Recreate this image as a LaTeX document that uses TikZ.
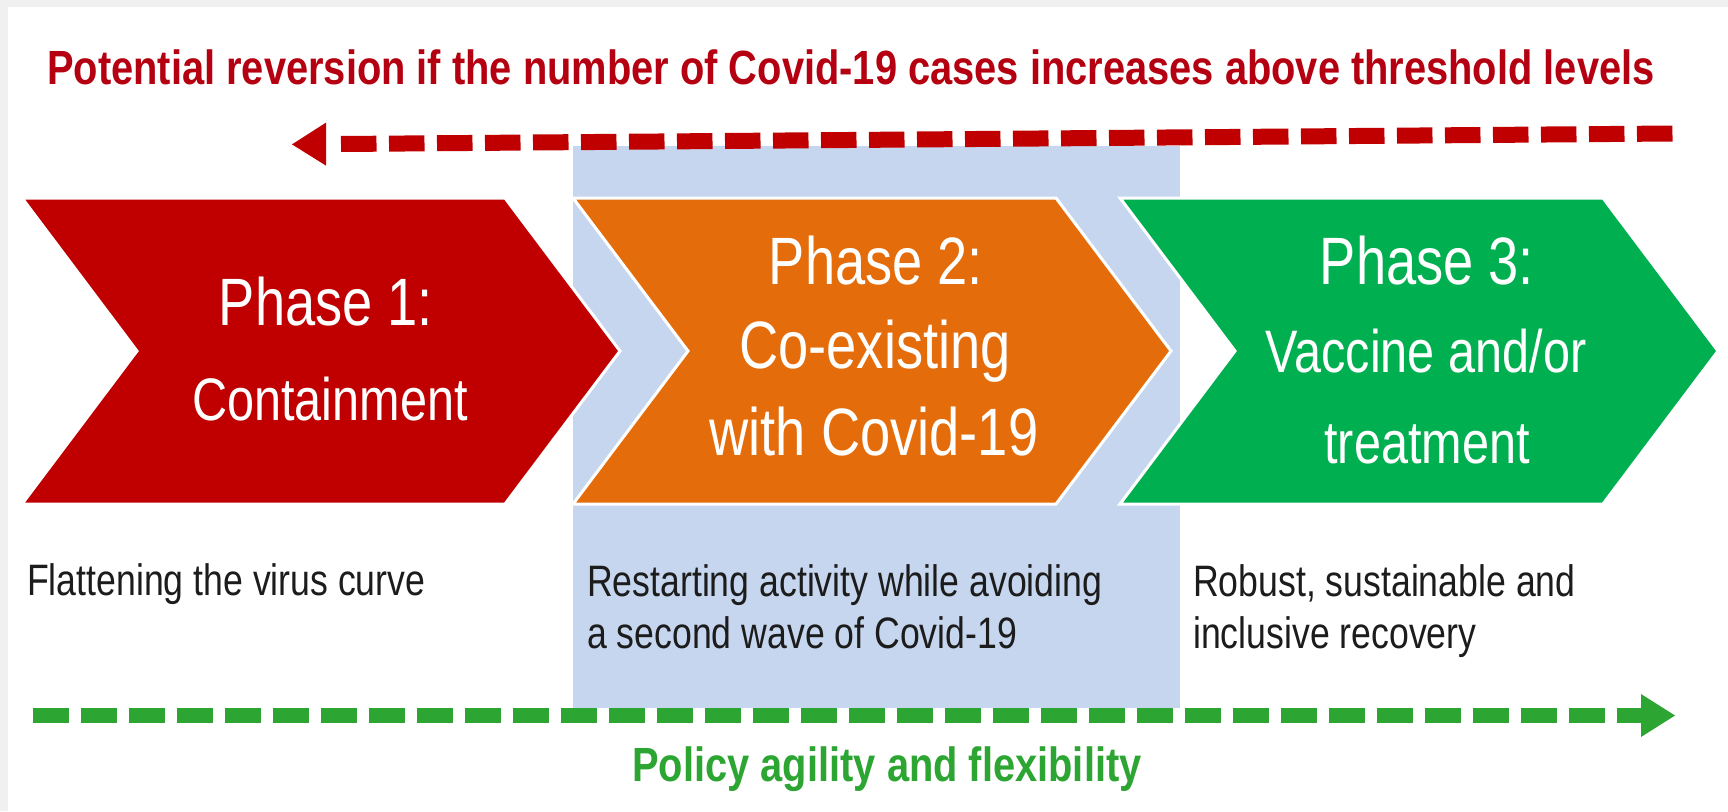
\documentclass[tikz,border=0pt]{standalone}
\usepackage{fontspec}
\setmainfont{Liberation Sans}
\definecolor{bggray}{RGB}{240,240,240}
\definecolor{phred}{RGB}{192,0,0}
\definecolor{titred}{RGB}{180,0,16}
\definecolor{phorange}{RGB}{228,108,10}
\definecolor{phgreen}{RGB}{0,176,80}
\definecolor{phblue}{RGB}{198,214,238}
\definecolor{arrgreen}{RGB}{44,165,50}
\definecolor{txtdark}{RGB}{28,28,28}
\newcommand\nrw[1]{\scalebox{0.81}[1]{#1}}
\newcommand\bldw[1]{\scalebox{0.83}[1]{#1}}
\begin{document}
\begin{tikzpicture}[x=1pt,y=-1pt,
  chev/.style={draw=white, line width=3pt, line join=miter},
  ptxt/.style={text=white, inner sep=0pt, anchor=base},
  btxt/.style={text=txtdark, inner sep=0pt, anchor=base west, font=\fontsize{44}{53}\selectfont},
  bigf/.style={font=\fontsize{67}{80}\selectfont},
  medf/.style={font=\fontsize{60}{72}\selectfont},
  dashline/.style={line width=#1, dash pattern=on 35.5pt off 12.5pt, line cap=butt},
  headtxt/.style={inner sep=0pt, font=\fontsize{48}{58}\selectfont\bfseries},
]
\useasboundingbox (0,0) rectangle (1728,811);
\fill[bggray] (0,0) rectangle (1728,811);
\fill[white] (8,7) rectangle (1728,811);
% light blue band behind phase 2
\fill[phblue] (573,146) rectangle (1180,708);
% chevrons
\path[chev, fill=phred] (22,198) -- (505,198) -- (620,351) -- (505,504) -- (22,504) -- (137,351) -- cycle;
\path[chev, fill=phorange] (573,198) -- (1056,198) -- (1171,351) -- (1056,504) -- (573,504) -- (688,351) -- cycle;
\path[chev, fill=phgreen] (1120,198) -- (1603,198) -- (1718,351) -- (1603,504) -- (1120,504) -- (1235,351) -- cycle;
% title
\node[headtxt, text=titred, anchor=base west] (title) at (47,84) {\bldw{Potential reversion if the number of Covid-19 cases increases above threshold levels}};
% reversion arrow
\coordinate (rs) at (341,144);
\coordinate (re) at (1673,133.5);
\coordinate (rtip) at (292,144.4);
\draw[dashline=16pt, phred] (rs) -- (re);
\fill[phred] (rtip) -- (326,122.6) -- (326,165.6) -- cycle;
% phase texts
\node[ptxt, bigf] (p1a) at (326,325) {\nrw{Phase 1:}};
\node[ptxt, medf] (p1b) at (330,420) {\nrw{Containment}};
\node[ptxt, bigf] (p2a) at (876,284) {\nrw{Phase 2:}};
\node[ptxt, bigf] (p2b) at (875,368) {\nrw{Co-existing}};
\node[ptxt, bigf] (p2c) at (874,455) {\nrw{with Covid-19}};
\node[ptxt, bigf] (p3a) at (1427,284) {\nrw{Phase 3:}};
\node[ptxt, medf] (p3b) at (1426,372) {\nrw{Vaccine and/or}};
\node[ptxt, medf] (p3c) at (1427,463) {\nrw{treatment}};
% descriptions
\node[btxt] (d1) at (27,595) {\nrw{Flattening the virus curve}};
\node[btxt] (d2a) at (587,596) {\nrw{Restarting activity while avoiding}};
\node[btxt] (d2b) at (587,648) {\nrw{a second wave of Covid-19}};
\node[btxt] (d3a) at (1193,596) {\nrw{Robust, sustainable and}};
\node[btxt] (d3b) at (1193,648) {\nrw{inclusive recovery}};
% policy arrow
\coordinate (gs) at (33,715.5);
\coordinate (ge) at (1641,715.5);
\coordinate (gtip) at (1675,715.5);
\draw[dashline=15pt, arrgreen] (gs) -- (ge);
\fill[arrgreen] (1641,694) -- (gtip) -- (1641,737) -- cycle;
\node[headtxt, text=arrgreen, anchor=base] (policy) at (887,781) {\bldw{Policy agility and flexibility}};
\end{tikzpicture}
\end{document}
